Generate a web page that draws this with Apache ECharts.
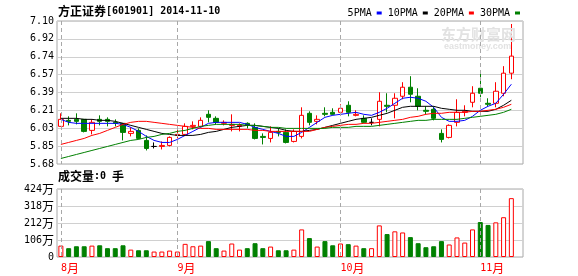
<!DOCTYPE html>
<html><head><meta charset="utf-8">
<script src="https://cdn.jsdelivr.net/npm/echarts@6/dist/echarts.min.js"></script>
<style>html,body{margin:0;padding:0;background:#fff}#c{width:578px;height:276px}</style>
</head><body><div id="c"></div>
<script>
// ---- data ----
const dates = ['08-11','08-12','08-13','08-14','08-15','08-18','08-19','08-20','08-21','08-22','08-25','08-26','08-27','08-28','08-29',
  '09-01','09-02','09-03','09-04','09-05','09-09','09-10','09-11','09-12','09-15','09-16','09-17','09-18','09-19','09-22','09-23','09-24','09-25','09-26','09-29','09-30',
  '10-08','10-09','10-10','10-13','10-14','10-15','10-16','10-17','10-20','10-21','10-22','10-23','10-24','10-27','10-28','10-29','10-30','10-31',
  '11-03','11-04','11-05','11-06','11-07'];
const opens  = [6.05,6.11,6.12,6.12,6.01,6.12,6.12,6.09,6.08,5.98,6.01,5.91,5.85,5.85,5.86,5.96,5.97,6.05,6.05,6.17,
  6.13,6.08,6.06,6.05,6.08,6.04,5.95,5.93,6.00,5.99,5.90,5.95,6.18,6.10,6.18,6.19,6.19,6.26,6.16,6.13,
  6.09,6.12,6.26,6.26,6.35,6.44,6.35,6.21,6.22,5.98,5.94,6.09,6.19,6.29,6.43,6.28,6.28,6.38,6.58];
const closes = [6.12,6.10,6.10,6.00,6.09,6.10,6.10,6.08,5.99,6.00,5.93,5.83,5.85,5.86,5.94,5.97,6.05,6.06,6.11,6.14,
  6.09,6.09,6.07,6.06,6.06,5.93,5.94,5.99,5.99,5.89,6.00,6.16,6.09,6.12,6.17,6.17,6.23,6.19,6.17,6.09,
  6.09,6.30,6.25,6.33,6.44,6.37,6.25,6.20,6.13,5.92,6.06,6.19,6.20,6.38,6.38,6.27,6.40,6.58,6.75];
const lows   = [6.05,6.06,6.07,5.99,5.97,6.06,6.05,6.05,5.91,5.95,5.92,5.81,5.83,5.82,5.85,5.93,5.96,6.02,6.04,6.09,
  6.07,6.06,6.00,6.00,6.03,5.92,5.87,5.89,5.95,5.88,5.89,5.93,6.06,6.07,6.15,6.16,6.18,6.15,6.15,6.08,
  6.06,6.05,6.19,6.13,6.32,6.29,6.21,6.17,6.11,5.89,5.93,6.05,6.15,6.24,6.34,6.25,6.24,6.35,6.52];
const highs  = [6.18,6.15,6.18,6.12,6.12,6.16,6.14,6.12,6.08,6.04,6.03,5.96,5.89,5.90,5.95,6.02,6.08,6.10,6.14,6.21,
  6.15,6.11,6.17,6.08,6.09,6.08,5.98,6.05,6.03,6.02,6.02,6.24,6.20,6.16,6.24,6.23,6.27,6.30,6.21,6.16,
  6.13,6.39,6.38,6.38,6.49,6.55,6.43,6.25,6.25,6.02,6.07,6.32,6.26,6.45,6.58,6.33,6.49,6.65,7.07];
const volumes = [71,55,67,67,71,73,55,55,73,46,42,42,34,34,40,34,82,67,71,99,
  55,40,84,46,55,86,55,65,42,42,46,172,118,65,99,73,84,80,71,55,
  55,197,143,160,153,124,86,61,67,99,78,122,90,172,218,200,216,248,367];
const ma5  = [6.12,6.09,6.08,6.08,6.08,6.08,6.08,6.08,6.07,6.04,6.00,5.95,5.91,5.89,5.89,5.92,5.96,6.00,6.04,6.08,
  6.09,6.09,6.09,6.09,6.07,6.04,6.02,6.00,5.98,5.95,5.95,5.99,6.04,6.09,6.14,6.16,6.17,6.18,6.19,6.17,
  6.16,6.19,6.23,6.28,6.33,6.34,6.33,6.30,6.24,6.14,6.10,6.10,6.11,6.15,6.21,6.25,6.28,6.37,6.47];
const ma10 = [6.13,6.13,6.13,6.12,6.12,6.11,6.11,6.10,6.08,6.06,6.04,6.02,6.00,5.98,5.97,5.96,5.96,5.96,5.97,5.99,
  6.00,6.02,6.04,6.05,6.06,6.06,6.05,6.04,6.03,6.01,6.00,6.00,6.01,6.02,6.04,6.06,6.08,6.10,6.12,6.13,
  6.14,6.16,6.18,6.21,6.24,6.25,6.25,6.25,6.25,6.23,6.22,6.21,6.21,6.20,6.20,6.20,6.22,6.26,6.31];
const ma20 = [5.87,5.89,5.91,5.93,5.96,5.98,6.01,6.04,6.07,6.09,6.10,6.10,6.09,6.08,6.07,6.06,6.05,6.04,6.03,6.03,
  6.02,6.02,6.02,6.02,6.02,6.01,6.01,6.00,6.00,6.00,6.00,6.00,6.00,6.02,6.04,6.05,6.06,6.07,6.07,6.08,
  6.08,6.09,6.10,6.11,6.12,6.14,6.15,6.17,6.18,6.18,6.19,6.19,6.19,6.20,6.20,6.21,6.22,6.24,6.27];
const ma30 = [5.73,5.75,5.77,5.79,5.81,5.83,5.85,5.87,5.89,5.91,5.92,5.94,5.95,5.97,5.98,6.00,6.01,6.03,6.05,6.06,
  6.07,6.07,6.07,6.07,6.06,6.06,6.05,6.04,6.04,6.03,6.03,6.03,6.03,6.03,6.03,6.04,6.04,6.04,6.05,6.05,
  6.05,6.06,6.07,6.08,6.09,6.10,6.11,6.11,6.12,6.12,6.12,6.12,6.13,6.14,6.15,6.16,6.17,6.19,6.22];
const priceTicks = ['5.68','5.85','6.03','6.21','6.39','6.57','6.74','6.92','7.10'];
const volTicks = ['0','106','212','318','424'];
const monthStarts = ['08-11','09-01','10-08','11-03'];
const monthLabels = ['8月','9月','10月','11月'];
const maNames = ['5PMA','10PMA','20PMA','30PMA'];

// ---- chart ----
const MONO = "'DejaVu Sans Mono', monospace";
const CJK = "'Noto Sans CJK SC', sans-serif";
const rich = { d: {fontFamily: MONO, fontSize: 10, color: 'inherit'}, c: {fontFamily: CJK, fontSize: 12, color: 'inherit'} };
const xData = dates.concat(['']);
const candleData = dates.map((d, i) => [opens[i], closes[i], lows[i], highs[i]]);
const volData = dates.map((d, i) => ({
  value: volumes[i],
  itemStyle: closes[i] >= opens[i]
    ? {color: '#ffffff', borderColor: '#ff0000', borderWidth: 1}
    : {color: '#008000', borderColor: '#008000', borderWidth: 1}
}));
const GRIDS = [{left: 57, width: 466, top: 21, height: 143}, {left: 57, width: 466, top: 189, height: 68}];
const GRIDLINE = {show: true, lineStyle: {color: '#d0d0d0', width: 1}};
const chart = echarts.init(document.getElementById('c'), null, {renderer: 'canvas'});
chart.setOption({
  animation: false,
  title: [
    {text: '{c|方正证券}{d|[601901] 2014-11-10}', left: 58, top: 5, padding: 0,
     textStyle: {color: '#000', rich: {d: {fontFamily: MONO, fontSize: 10, color: '#000'}, c: {fontFamily: CJK, fontSize: 12, color: '#000'}}}},
    {text: '{c|成交量}{d|:0 }{c|手}', left: 58, top: 170, padding: 0,
     textStyle: {color: '#000', rich: {d: {fontFamily: MONO, fontSize: 10, color: '#000'}, c: {fontFamily: CJK, fontSize: 12, color: '#000'}}}}
  ],
  legend: {
    data: maNames, right: 58, top: 8, align: 'right', icon: 'rect',
    itemWidth: 5, itemHeight: 3, itemGap: 6, padding: 0, selectedMode: false,
    textStyle: {fontFamily: MONO, fontSize: 10, color: '#000'}
  },
  grid: GRIDS.map(g => Object.assign({show: true, borderColor: '#a8a8a8', borderWidth: 1, backgroundColor: 'transparent'}, g)),
  xAxis: [
    {type: 'category', gridIndex: 0, data: xData, boundaryGap: true,
     axisLine: {show: false}, axisTick: {show: false}, axisLabel: {show: false}, splitLine: {show: false}},
    {type: 'category', gridIndex: 1, data: xData, boundaryGap: true,
     axisLine: {show: false}, axisTick: {show: false}, splitLine: {show: false},
     axisLabel: {
       interval: (i, v) => monthStarts.indexOf(v) >= 0,
       formatter: v => { const k = monthStarts.indexOf(v); const s = monthLabels[k]; return '{d|' + s.slice(0, -1) + '}{c|' + s.slice(-1) + '}'; },
       color: '#ff0000', align: 'left', margin: 5, rich: rich
     }}
  ],
  yAxis: [
    {type: 'value', gridIndex: 0, min: 5.675, max: 7.10, show: false, splitLine: {show: false}},
    {type: 'value', gridIndex: 0, min: 0, max: 8, interval: 1, position: 'left',
     axisLine: {show: false}, axisTick: {show: false}, splitLine: GRIDLINE,
     axisLabel: {formatter: v => priceTicks[v], fontFamily: MONO, fontSize: 10, color: '#000', margin: 3}},
    {type: 'value', gridIndex: 1, min: 0, max: 424, interval: 106,
     axisLine: {show: false}, axisTick: {show: false}, splitLine: GRIDLINE,
     axisLabel: {
       formatter: v => { const k = Math.round(v / 106); return k === 0 ? '{d|' + volTicks[0] + '}' : '{d|' + volTicks[k] + '}{c|万}'; },
       color: '#000', margin: 3, rich: rich
     }}
  ],
  series: [
    {type: 'candlestick', name: 'K', xAxisIndex: 0, yAxisIndex: 0, data: candleData, barWidth: 5,
     itemStyle: {color: '#ffffff', color0: '#008000', borderColor: '#ff0000', borderColor0: '#008000', borderColorDoji: '#000000', borderWidth: 1},
     z: 3},
    {type: 'line', name: maNames[0], xAxisIndex: 0, yAxisIndex: 0, data: ma5, symbol: 'none', color: '#0000ff', lineStyle: {width: 1, color: '#0000ff'}, z: 4},
    {type: 'line', name: maNames[1], xAxisIndex: 0, yAxisIndex: 0, data: ma10, symbol: 'none', color: '#000000', lineStyle: {width: 1, color: '#000000'}, z: 4},
    {type: 'line', name: maNames[2], xAxisIndex: 0, yAxisIndex: 0, data: ma20, symbol: 'none', color: '#ff0000', lineStyle: {width: 1, color: '#ff0000'}, z: 4},
    {type: 'line', name: maNames[3], xAxisIndex: 0, yAxisIndex: 0, data: ma30, symbol: 'none', color: '#008000', lineStyle: {width: 1, color: '#008000'}, z: 4},
    {type: 'bar', name: 'VOL', xAxisIndex: 1, yAxisIndex: 2, data: volData, barWidth: 5, z: 3}
  ]
});
// watermark and month separators (separator x taken from the category axis scale)
const extras = [
  {type: 'text', left: 441, top: 27, z: 100,
   style: {text: '东方财富网', fill: '#e2e2e2', font: 'bold 15px ' + CJK}},
  {type: 'text', left: 444, top: 42, z: 100,
   style: {text: 'eastmoney.com', fill: '#e2e2e2', font: 'bold 9px Arial'}}
];
monthStarts.forEach(m => {
  const p = chart.convertToPixel({gridIndex: 0}, [dates.indexOf(m), 6]);
  const x = Math.round(p[0]) + 0.5;
  GRIDS.forEach(g => extras.push({
    type: 'line', z: 100,
    shape: {x1: x, y1: g.top, x2: x, y2: g.top + g.height},
    style: {stroke: '#a8a8a8', lineWidth: 1, lineDash: [4, 3]}
  }));
});
chart.setOption({graphic: extras});
</script>
</body></html>
